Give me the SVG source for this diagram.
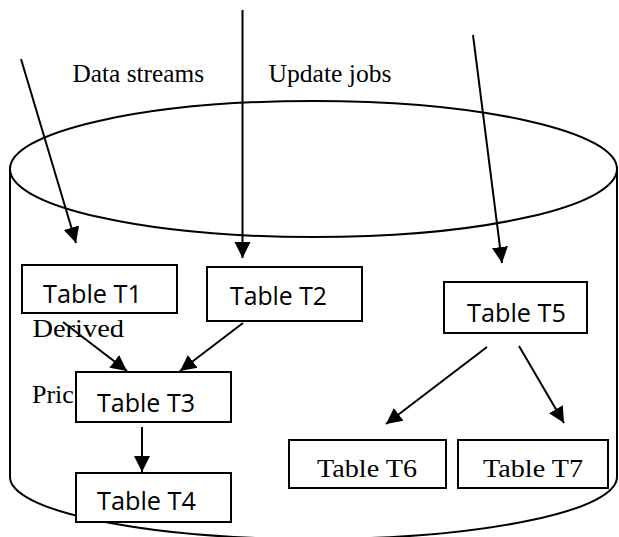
<svg xmlns="http://www.w3.org/2000/svg" width="619" height="537" viewBox="0 0 619 537">
<style>
.shape{fill:none;stroke:#000;stroke-width:2}
.box{fill:#fff;stroke:#000;stroke-width:2}
.conn{stroke:#000;stroke-width:2;fill:none}
.sans{font-family:"Open Sans","Liberation Sans",sans-serif;font-size:25px;fill:#000}
.serif{font-family:"Liberation Serif","Times New Roman",serif;font-size:26px;fill:#000}
</style>
<defs>
<marker id="ah" markerUnits="userSpaceOnUse" markerWidth="18" markerHeight="18" viewBox="0 0 18 18" refX="16" refY="9" orient="auto">
<path d="M0,1 L16,9 L0,17 Z" fill="#000"/>
</marker>
</defs>
<rect width="619" height="537" fill="#fff"/>
<g id="cylinder">
<ellipse class="shape" cx="313.5" cy="169" rx="303.5" ry="68"/>
<path class="shape" d="M10,169 L10,477 A303.5,62 0 0 0 617,477 L617,169"/>
</g>
<g id="labels">
<text class="serif" x="72.5" y="81.5" textLength="131.5" lengthAdjust="spacingAndGlyphs">Data streams</text>
<text class="serif" x="268.5" y="81.5" textLength="123" lengthAdjust="spacingAndGlyphs">Update jobs</text>
<text class="serif" x="32.5" y="337" textLength="91.5" lengthAdjust="spacingAndGlyphs" font-size="27">Derived</text>
<text class="serif" x="32" y="403" font-size="27">Pric</text>
</g>
<g id="connectors">
<line class="conn" x1="21" y1="59" x2="76" y2="243" marker-end="url(#ah)"/>
<line class="conn" x1="242.5" y1="10" x2="242.5" y2="258" marker-end="url(#ah)"/>
<line class="conn" x1="473" y1="35" x2="502" y2="263" marker-end="url(#ah)"/>
<line class="conn" x1="63" y1="322" x2="127" y2="371" marker-end="url(#ah)"/>
<line class="conn" x1="243" y1="323" x2="180" y2="371" marker-end="url(#ah)"/>
<line class="conn" x1="142" y1="427" x2="142" y2="472" marker-end="url(#ah)"/>
<line class="conn" x1="487" y1="347" x2="386" y2="424" marker-end="url(#ah)"/>
<line class="conn" x1="519" y1="346" x2="564" y2="423" marker-end="url(#ah)"/>
</g>
<g id="T1">
<rect class="box" x="22" y="265" width="155" height="48"/>
<text class="sans" x="43" y="303" textLength="99" lengthAdjust="spacingAndGlyphs">Table T1</text>
</g>
<g id="T2">
<rect class="box" x="207" y="267" width="155" height="54"/>
<text class="sans" x="230" y="305" textLength="97" lengthAdjust="spacingAndGlyphs">Table T2</text>
</g>
<g id="T3">
<rect class="box" x="76" y="372" width="155" height="50"/>
<text class="sans" x="97" y="412" textLength="98" lengthAdjust="spacingAndGlyphs">Table T3</text>
</g>
<g id="T4">
<rect class="box" x="76" y="473" width="155" height="49"/>
<text class="sans" x="97" y="510" textLength="99" lengthAdjust="spacingAndGlyphs">Table T4</text>
</g>
<g id="T5">
<rect class="box" x="444" y="282" width="143" height="51"/>
<text class="sans" x="467" y="322" textLength="99" lengthAdjust="spacingAndGlyphs">Table T5</text>
</g>
<g id="T6">
<rect class="box" x="289" y="440" width="157" height="48"/>
<text class="serif" x="317" y="477" font-size="27" textLength="100" lengthAdjust="spacingAndGlyphs">Table T6</text>
</g>
<g id="T7">
<rect class="box" x="458" y="440" width="150" height="48"/>
<text class="serif" x="483" y="477" font-size="27" textLength="100" lengthAdjust="spacingAndGlyphs">Table T7</text>
</g>
</svg>
